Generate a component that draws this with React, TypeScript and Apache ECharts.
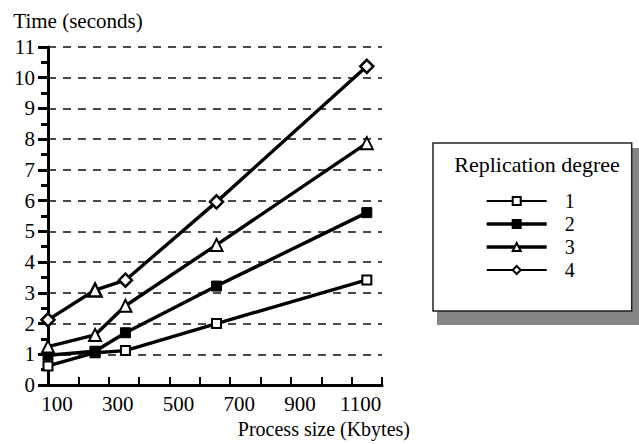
import React, { useEffect, useRef } from "react";
import * as echarts from "echarts";

const processSizes = [100, 255, 355, 655, 1150];
const seriesNames = ["1", "2", "3", "4"];
const deg1 = [0.62, 1.05, 1.12, 2.0, 3.42];
const deg2 = [0.97, 1.1, 1.7, 3.22, 5.61];
const deg3 = [1.25, 1.63, 2.58, 4.56, 7.87];
const deg4 = [2.12, 3.09, 3.41, 5.96, 10.37];
const xTickLabels = [100, 300, 500, 700, 900, 1100];
const legendTitle = "Replication degree";
const xAxisTitle = "Process size (Kbytes)";
const yAxisTitle = "Time (seconds)";

const FONT = "Liberation Serif";

export default function App() {
  const ref = useRef<HTMLDivElement>(null);
  useEffect(() => {
    if (!ref.current) return;
    const chart = echarts.init(ref.current, null, { renderer: "svg" });
    const pair = (ys: number[]) => processSizes.map((x, i) => [x, ys[i]]);
    const lineW = 3.4;
    const option: any = {
      animation: false,
      backgroundColor: "#ffffff",
      textStyle: { fontFamily: FONT, color: "#000" },
      grid: { left: 48, right: 257, top: 47, bottom: 59 },
      xAxis: {
        type: "value",
        min: 100,
        max: 1200,
        interval: 100,
        name: xAxisTitle,
        nameLocation: "end",
        nameGap: 28,
        nameTextStyle: {
          fontFamily: FONT,
          fontSize: 20,
          color: "#000",
          align: "right",
          verticalAlign: "top",
          padding: [34, 0, 0, 0],
        },
        axisLine: { show: true, onZero: false, lineStyle: { color: "#000", width: 3 } },
        axisTick: { show: true, inside: true, length: 8, lineStyle: { color: "#000", width: 2 } },
        splitLine: { show: false },
        axisLabel: {
          fontFamily: FONT,
          fontSize: 21,
          color: "#000",
          margin: 8,
          padding: [0, 0, 0, 18],
          showMaxLabel: true,
          formatter: (v: number) => (xTickLabels.indexOf(v) >= 0 ? String(v) : ""),
        },
      },
      yAxis: {
        type: "value",
        min: 0,
        max: 11,
        interval: 1,
        name: yAxisTitle,
        nameLocation: "end",
        nameGap: 16,
        nameTextStyle: {
          fontFamily: FONT,
          fontSize: 21,
          color: "#000",
          align: "center",
          verticalAlign: "bottom",
          padding: [0, 0, 0, 60],
        },
        axisLine: { show: true, onZero: false, lineStyle: { color: "#000", width: 3 } },
        axisTick: { show: true, inside: false, length: 10, lineStyle: { color: "#000", width: 3 } },
        minorTick: { show: true, splitNumber: 2, length: 7, lineStyle: { color: "#000", width: 3 } },
        splitLine: {
          show: true,
          lineStyle: { color: "#4a4a4a", width: 1.8, type: [8, 7] },
        },
        axisLabel: {
          fontFamily: FONT,
          fontSize: 21,
          color: "#000",
          margin: 13,
          padding: [0, 0, 10, 0],
        },
      },
      legend: {
        orient: "vertical",
        left: 433,
        top: 143,
        itemWidth: 60,
        itemHeight: 10,
        itemGap: 3,
        padding: [48, 57, 31, 52],
        backgroundColor: "#ffffff",
        borderColor: "#222",
        borderWidth: 1.5,
        z: 5,
        textStyle: { fontFamily: FONT, fontSize: 20, color: "#000", padding: [0, 0, 0, 13] },
        data: [
          { name: "1", lineStyle: { width: 2 } },
          { name: "2", lineStyle: { width: 3.4 } },
          { name: "3", lineStyle: { width: 3.4 } },
          { name: "4", lineStyle: { width: 2 } },
        ],
      },
      graphic: [
        {
          type: "rect",
          z: 1,
          shape: { x: 437, y: 148, width: 210, height: 177 },
          style: { fill: "#858585" },
        },
        {
          type: "text",
          z: 100,
          style: {
            x: 537,
            y: 164,
            text: legendTitle,
            fontFamily: FONT,
            fontSize: 22,
            fill: "#000",
            align: "center",
            verticalAlign: "middle",
          },
        },
      ],
      series: [
        {
          name: seriesNames[0],
          type: "line",
          data: pair(deg1),
          symbol: "rect",
          symbolSize: 9,
          lineStyle: { color: "#000", width: lineW },
          itemStyle: { color: "#fff", borderColor: "#000", borderWidth: 2 },
          z: 3,
        },
        {
          name: seriesNames[1],
          type: "line",
          data: pair(deg2),
          symbol: "rect",
          symbolSize: 10,
          lineStyle: { color: "#000", width: lineW },
          itemStyle: { color: "#000", borderColor: "#000", borderWidth: 1 },
          z: 3,
        },
        {
          name: seriesNames[2],
          type: "line",
          data: pair(deg3),
          symbol: "triangle",
          symbolSize: 12,
          lineStyle: { color: "#000", width: lineW },
          itemStyle: { color: "#fff", borderColor: "#000", borderWidth: 2 },
          z: 3,
        },
        {
          name: seriesNames[3],
          type: "line",
          data: pair(deg4).map((p, i) => (i === 1 ? { value: p, symbol: "triangle" } : p)),
          symbol: "diamond",
          symbolSize: 13,
          lineStyle: { color: "#000", width: lineW },
          itemStyle: { color: "#fff", borderColor: "#000", borderWidth: 2.5 },
          z: 3,
        },
      ],
    };
    chart.setOption(option);
    return () => chart.dispose();
  }, []);
  return (
    <div
      ref={ref}
      style={{ position: "fixed", left: 0, top: 0, width: 639, height: 444, background: "#fff" }}
    />
  );
}
